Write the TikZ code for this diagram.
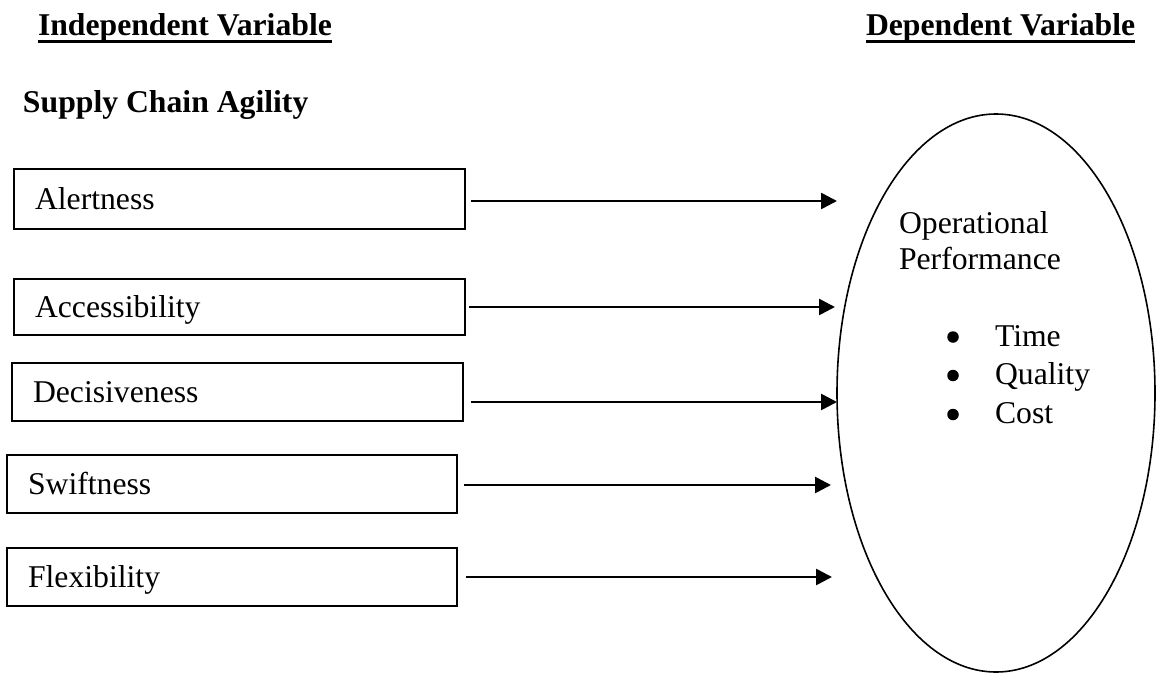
\documentclass[tikz,border=0pt]{standalone}
\usepackage{fontspec}
\setmainfont{Liberation Serif}
\usetikzlibrary{shapes.geometric,arrows.meta}
\newcommand{\myul}[1]{\setbox0\hbox{#1}\rlap{\rule[-7.7pt]{\wd0}{3pt}}\box0}
\begin{document}
\begin{tikzpicture}[x=1pt,y=-1pt,
  every node/.style={font=\fontsize{31.7}{38}\selectfont, inner sep=0pt, outer sep=0pt},
  varbox/.style={draw, line width=1.5pt, rectangle, inner xsep=21pt, inner ysep=0pt,
                 align=left, text height=28pt, text depth=8pt},
  heading/.style={anchor=base west, font=\fontsize{31.7}{38}\selectfont\bfseries},
  item/.style={anchor=base west},
  bul/.style={circle, fill=black, minimum size=11.5pt},
  arr/.style={line width=2.6pt, -{Triangle[length=16pt,width=16pt]}}]
\useasboundingbox (0,0) rectangle (1156,672);

% headings
\node[heading] (hind) at (38,35) {\myul{Independent Variable}};
\node[heading] (hdep) at (866,35) {\myul{Dependent Variable}};
\node[heading] (sca) at (23,112) {Supply Chain Agility};

% boxes
\node[varbox, text width=409pt, minimum height=60pt] (A) at (239.5,199) {Alertness};
\node[varbox, text width=409pt, minimum height=56pt] (B) at (239.5,307) {Accessibility};
\node[varbox, text width=409pt, minimum height=58pt] (C) at (237.5,392) {Decisiveness};
\node[varbox, text width=408pt, minimum height=58pt] (D) at (232,484) {Swiftness};
\node[varbox, text width=408pt, minimum height=58pt] (E) at (232,577) {Flexibility};

% ellipse
\node[draw, ellipse, line width=1.6pt, minimum width=318pt, minimum height=558pt] (perf) at (996,393) {};
\node[item] (op1) at (899,233) {Operational};
\node[item] (op2) at (899,269) {Performance};
\node[bul] (b1) at (953,337) {};
\node[bul] (b2) at (953,375.5) {};
\node[bul] (b3) at (953,414.5) {};
\node[item] (i1) at (995,346) {Time};
\node[item] (i2) at (995,384.5) {Quality};
\node[item] (i3) at (995,423) {Cost};

% arrow tips
\coordinate (t1) at (837,201);
\coordinate (t2) at (835,307);
\coordinate (t3) at (837,402);
\coordinate (t4) at (831,485);
\coordinate (t5) at (832,577);

\draw[arr] ([xshift=6pt,yshift=-2pt]A.east) -- (t1);
\draw[arr] ([xshift=4pt]B.east) -- (t2);
\draw[arr] ([xshift=8pt,yshift=-10pt]C.east) -- (t3);
\draw[arr] ([xshift=7pt,yshift=-1pt]D.east) -- (t4);
\draw[arr] ([xshift=9pt]E.east) -- (t5);
\end{tikzpicture}
\end{document}
